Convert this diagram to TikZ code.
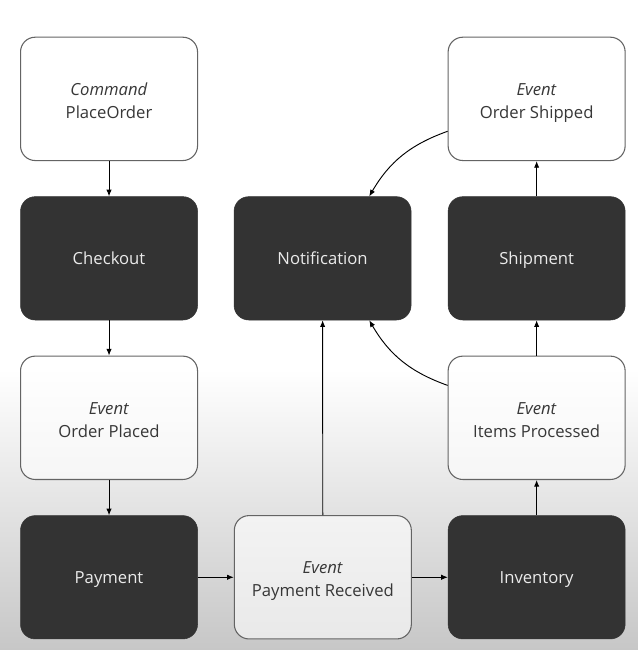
\documentclass[tikz,border=0pt]{standalone}
\usepackage{fontspec}
\setmainfont{Open Sans}
\usepackage{tikz}
\usetikzlibrary{
	arrows.meta,
	positioning,
	shadings
}
\definecolor{BoxDark}{RGB}{51,51,51}
\definecolor{BoxLine}{RGB}{100,100,100}
\definecolor{TextDark}{RGB}{55,55,55}

\newcommand{\msgtext}[2]{\rule{0pt}{12pt}\smash{\textit{#1}}\\\smash{#2}}

\tikzset{
	service/.style={rectangle, rounded corners=11pt, minimum width=132.75pt, minimum height=92.5pt,
		fill=BoxDark, draw=BoxDark, text=white!92!black, text height=10pt, text depth=1pt,
		font=\fontsize{12.5}{17}\selectfont},
	message/.style={rectangle, rounded corners=11pt, minimum width=132.75pt, minimum height=92.5pt,
		draw=BoxLine, line width=0.8pt, fill=white, fill opacity=0.6, text opacity=1,
		text=TextDark, align=center, font=\fontsize{12.5}{17}\selectfont},
	flow/.style={-{Latex[length=5pt,width=4pt]}, line width=0.7pt, black}
}

\begin{document}
\begin{tikzpicture}[node distance=26.5pt and 27pt]
	% 背景
	\fill[white] (0,0) rectangle (478.5pt,-487.5pt);
	\shade[top color=white, bottom color=black!22] (0,-277pt) rectangle (478.5pt,-487.5pt);
	\useasboundingbox (0,0) rectangle (478.5pt,-487.5pt);
	
	% 左列
	\node[message, anchor=north west] (place) at (15pt,-27.5pt) {\msgtext{Command}{PlaceOrder}};
	\node[service, below=of place] (checkout) {Checkout};
	\node[message, below=of checkout] (placed) {\msgtext{Event}{Order Placed}};
	\node[service, below=of placed] (payment) {Payment};
	
	% 中列
	\node[message, right=of payment] (received) {\msgtext{Event}{Payment Received}};
	\node[service, right=of checkout] (notify) {Notification};
	
	% 右列
	\node[service, right=of received] (inventory) {Inventory};
	\node[message, above=of inventory] (processed) {\msgtext{Event}{Items Processed}};
	\node[service, above=of processed] (shipment) {Shipment};
	\node[message, above=of shipment] (shipped) {\msgtext{Event}{Order Shipped}};
	
	% 连线
	\draw[flow] (place) -- (checkout);
	\draw[flow] (checkout) -- (placed);
	\draw[flow] (placed) -- (payment);
	\draw[flow] (payment) -- (received);
	\draw[flow] (received) -- (inventory);
	\draw[flow] (received) -- (notify);
	\draw[flow] (inventory) -- (processed);
	\draw[flow] (processed) -- (shipment);
	\draw[flow] (shipment) -- (shipped);
	\draw[flow] (shipped.200) to[bend right=20] (notify.53);
	\draw[flow] (processed.160) to[bend left=20] (notify.-53);
\end{tikzpicture}
\end{document}
